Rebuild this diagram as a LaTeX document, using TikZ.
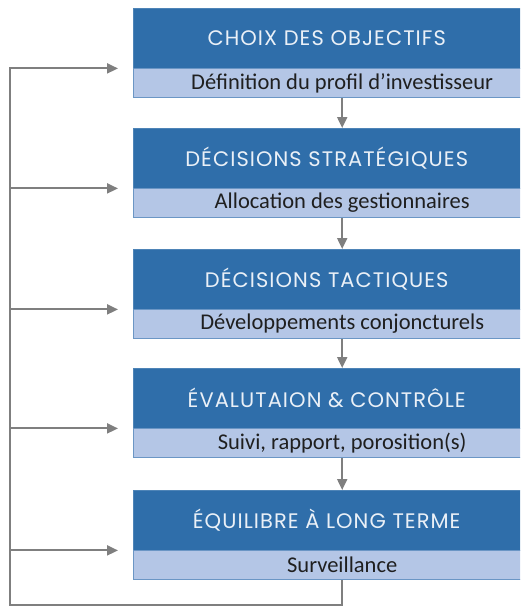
\documentclass[tikz,border=0pt]{standalone}
\usepackage{fontspec}
\setmainfont{Carlito}
\newfontfamily\hdrfont{Poppins}[LetterSpace=5]
\usetikzlibrary{positioning,arrows.meta}
\definecolor{hdrblue}{HTML}{2F6EAA}
\definecolor{bandblue}{HTML}{B4C6E6}
\definecolor{linegray}{HTML}{7F7F7F}

\begin{document}
\begin{tikzpicture}[
    x=1pt, y=-1pt,
    hdr/.style={fill=hdrblue, draw=hdrblue!85!white, anchor=north west,
                minimum width=387pt, minimum height=60pt, inner sep=0pt,
                text=white!90!hdrblue, font=\hdrfont\fontsize{21}{23}\selectfont},
    band/.style={fill=bandblue, draw=hdrblue!55!bandblue, anchor=north west,
                 minimum width=418pt, minimum height=29pt, inner sep=0pt,
                 text=black!88, font=\fontsize{22.5}{24}\selectfont},
    arr/.style={-{Triangle[length=11pt,width=10pt]}, draw=linegray, line width=2pt},
]
  \useasboundingbox (0,0) rectangle (520,608);
  \clip (0,0) rectangle (520,608);

  % the five stages
  \node[hdr] (hdr1) at (133,8) {CHOIX DES OBJECTIFS};
  \node[band] (sub1) at (hdr1.south west) {Définition du profil d'investisseur};
  \node[hdr] (hdr2) at (133,128) {DÉCISIONS STRATÉGIQUES};
  \node[band] (sub2) at (hdr2.south west) {Allocation des gestionnaires};
  \node[hdr] (hdr3) at (133,249) {DÉCISIONS TACTIQUES};
  \node[band] (sub3) at (hdr3.south west) {Développements conjoncturels};
  \node[hdr] (hdr4) at (133,368) {ÉVALUTAION \& CONTRÔLE};
  \node[band] (sub4) at (hdr4.south west) {Suivi, rapport, porosition(s)};
  \node[hdr] (hdr5) at (133,490) {ÉQUILIBRE À LONG TERME};
  \node[band] (sub5) at (hdr5.south west) {Surveillance};

  \draw[arr] (sub1.south) -- (sub1.south |- hdr2.north);
  \draw[arr] (sub2.south) -- (sub2.south |- hdr3.north);
  \draw[arr] (sub3.south) -- (sub3.south |- hdr4.north);
  \draw[arr] (sub4.south) -- (sub4.south |- hdr5.north);

  % feedback loop
  \coordinate (rail) at (10,605);
  \draw[arr] (sub5.south) -- (sub5.south |- rail) -- (rail)
    -- (hdr1.south west -| rail) -- ([xshift=-15pt]hdr1.south west);
  \draw[arr] (hdr2.south west -| rail) -- ([xshift=-15pt]hdr2.south west);
  \draw[arr] (hdr3.south west -| rail) -- ([xshift=-15pt]hdr3.south west);
  \draw[arr] (hdr4.south west -| rail) -- ([xshift=-15pt]hdr4.south west);
  \draw[arr] (hdr5.south west -| rail) -- ([xshift=-15pt]hdr5.south west);
\end{tikzpicture}
\end{document}
